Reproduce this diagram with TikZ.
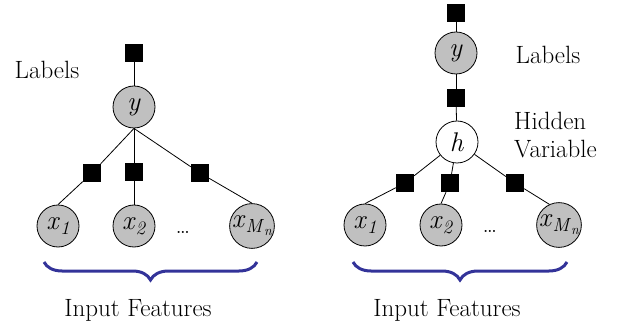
\documentclass[tikz,border=0pt]{standalone}
\usepackage{fontspec}
\usetikzlibrary{decorations.pathreplacing}
\definecolor{braceblue}{RGB}{51,51,153}
\definecolor{nodegray}{RGB}{192,192,192}
\newcommand\vsub[2]{\textit{#1}\raisebox{-5pt}{\fontsize{19}{19}\selectfont\textit{#2}}}
\newcommand\vsubMn{\textit{x}\raisebox{-5pt}{\fontsize{19}{19}\selectfont\textit{M}\raisebox{-3pt}{\fontsize{14}{14}\selectfont\textit{n}}}}
\begin{document}
\begin{tikzpicture}[x=1pt,y=-1pt,
  factor/.style={rectangle,fill=black,minimum size=18pt,inner sep=0pt},
  obsvar/.style={circle,draw=black,line width=0.8pt,fill=nodegray,minimum size=42pt,inner sep=0pt,font=\fontsize{27}{27}\selectfont},
  hidvar/.style={obsvar,fill=white},
  edge/.style={draw=black,line width=0.8pt},
  lab/.style={font=\fontsize{25}{28}\selectfont,inner sep=0pt},
  bracestyle/.style={draw=braceblue,line width=3pt,decorate,decoration={brace,mirror,amplitude=18pt}}
]
\useasboundingbox (0,0) rectangle (620,328);
% ---------- left model ----------
\node[factor] (sL0) at (134,53) {};
\node[obsvar] (yL) at (134,107) {\textit{y}};
\node[factor] (sL1) at (92,173) {};
\node[factor] (sL2) at (134,172) {};
\node[factor] (sL3) at (200,173) {};
\node[obsvar] (xL1) at (58,226) {\vsub{x}{1}};
\node[obsvar] (xL2) at (134,226) {\vsub{x}{2}};
\node[obsvar] (xL3) at (252,226) {\vsubMn};
\node[lab] (dotsL) at (183,232) {\dots};
\node[lab] (labL) at (47,70) {Labels};
\coordinate (bL1) at (44,262);
\coordinate (bL2) at (257,262);
\node[lab] (inpL) at (138,310) {Input Features};
\draw[edge] (sL0) -- (yL);
\draw[edge] (yL.south) -- (sL1);
\draw[edge] (yL.south) -- (sL2);
\draw[edge] (yL.south) -- (sL3);
\draw[edge] (sL1) -- (xL1.north);
\draw[edge] (sL2) -- (xL2.north);
\draw[edge] (sL3) -- (xL3.north);
\draw[bracestyle] (bL1) -- (bL2);
% ---------- right model ----------
\node[factor] (sR0) at (456,13) {};
\node[obsvar] (yR) at (456,53) {\textit{y}};
\node[factor] (sR4) at (456,98) {};
\node[hidvar] (hR) at (457,142) {\textit{h}};
\node[factor] (sR1) at (405,183) {};
\node[factor] (sR2) at (450,183) {};
\node[factor] (sR3) at (515,183) {};
\node[obsvar] (xR1) at (365,225) {\vsub{x}{1}};
\node[obsvar] (xR2) at (441,225) {\vsub{x}{2}};
\node[obsvar] (xR3) at (559,225) {\vsubMn};
\node[lab] (dotsR) at (490,231) {\dots};
\node[lab] (labR) at (548,55) {Labels};
\node[lab,align=left,anchor=north west] (hidR) at (514,112) {Hidden\\Variable};
\coordinate (bR1) at (353,262);
\coordinate (bR2) at (567,262);
\node[lab] (inpR) at (447,310) {Input Features};
\draw[edge] (sR0) -- (yR);
\draw[edge] (yR) -- (sR4);
\draw[edge] (sR4) -- (hR);
\draw[edge] (hR) -- (sR1);
\draw[edge] (hR) -- (sR2);
\draw[edge] (hR) -- (sR3);
\draw[edge] (sR1) -- (xR1.north);
\draw[edge] (sR2) -- (xR2.north);
\draw[edge] (sR3) -- (xR3.115);
\draw[bracestyle] (bR1) -- (bR2);
\end{tikzpicture}
\end{document}
